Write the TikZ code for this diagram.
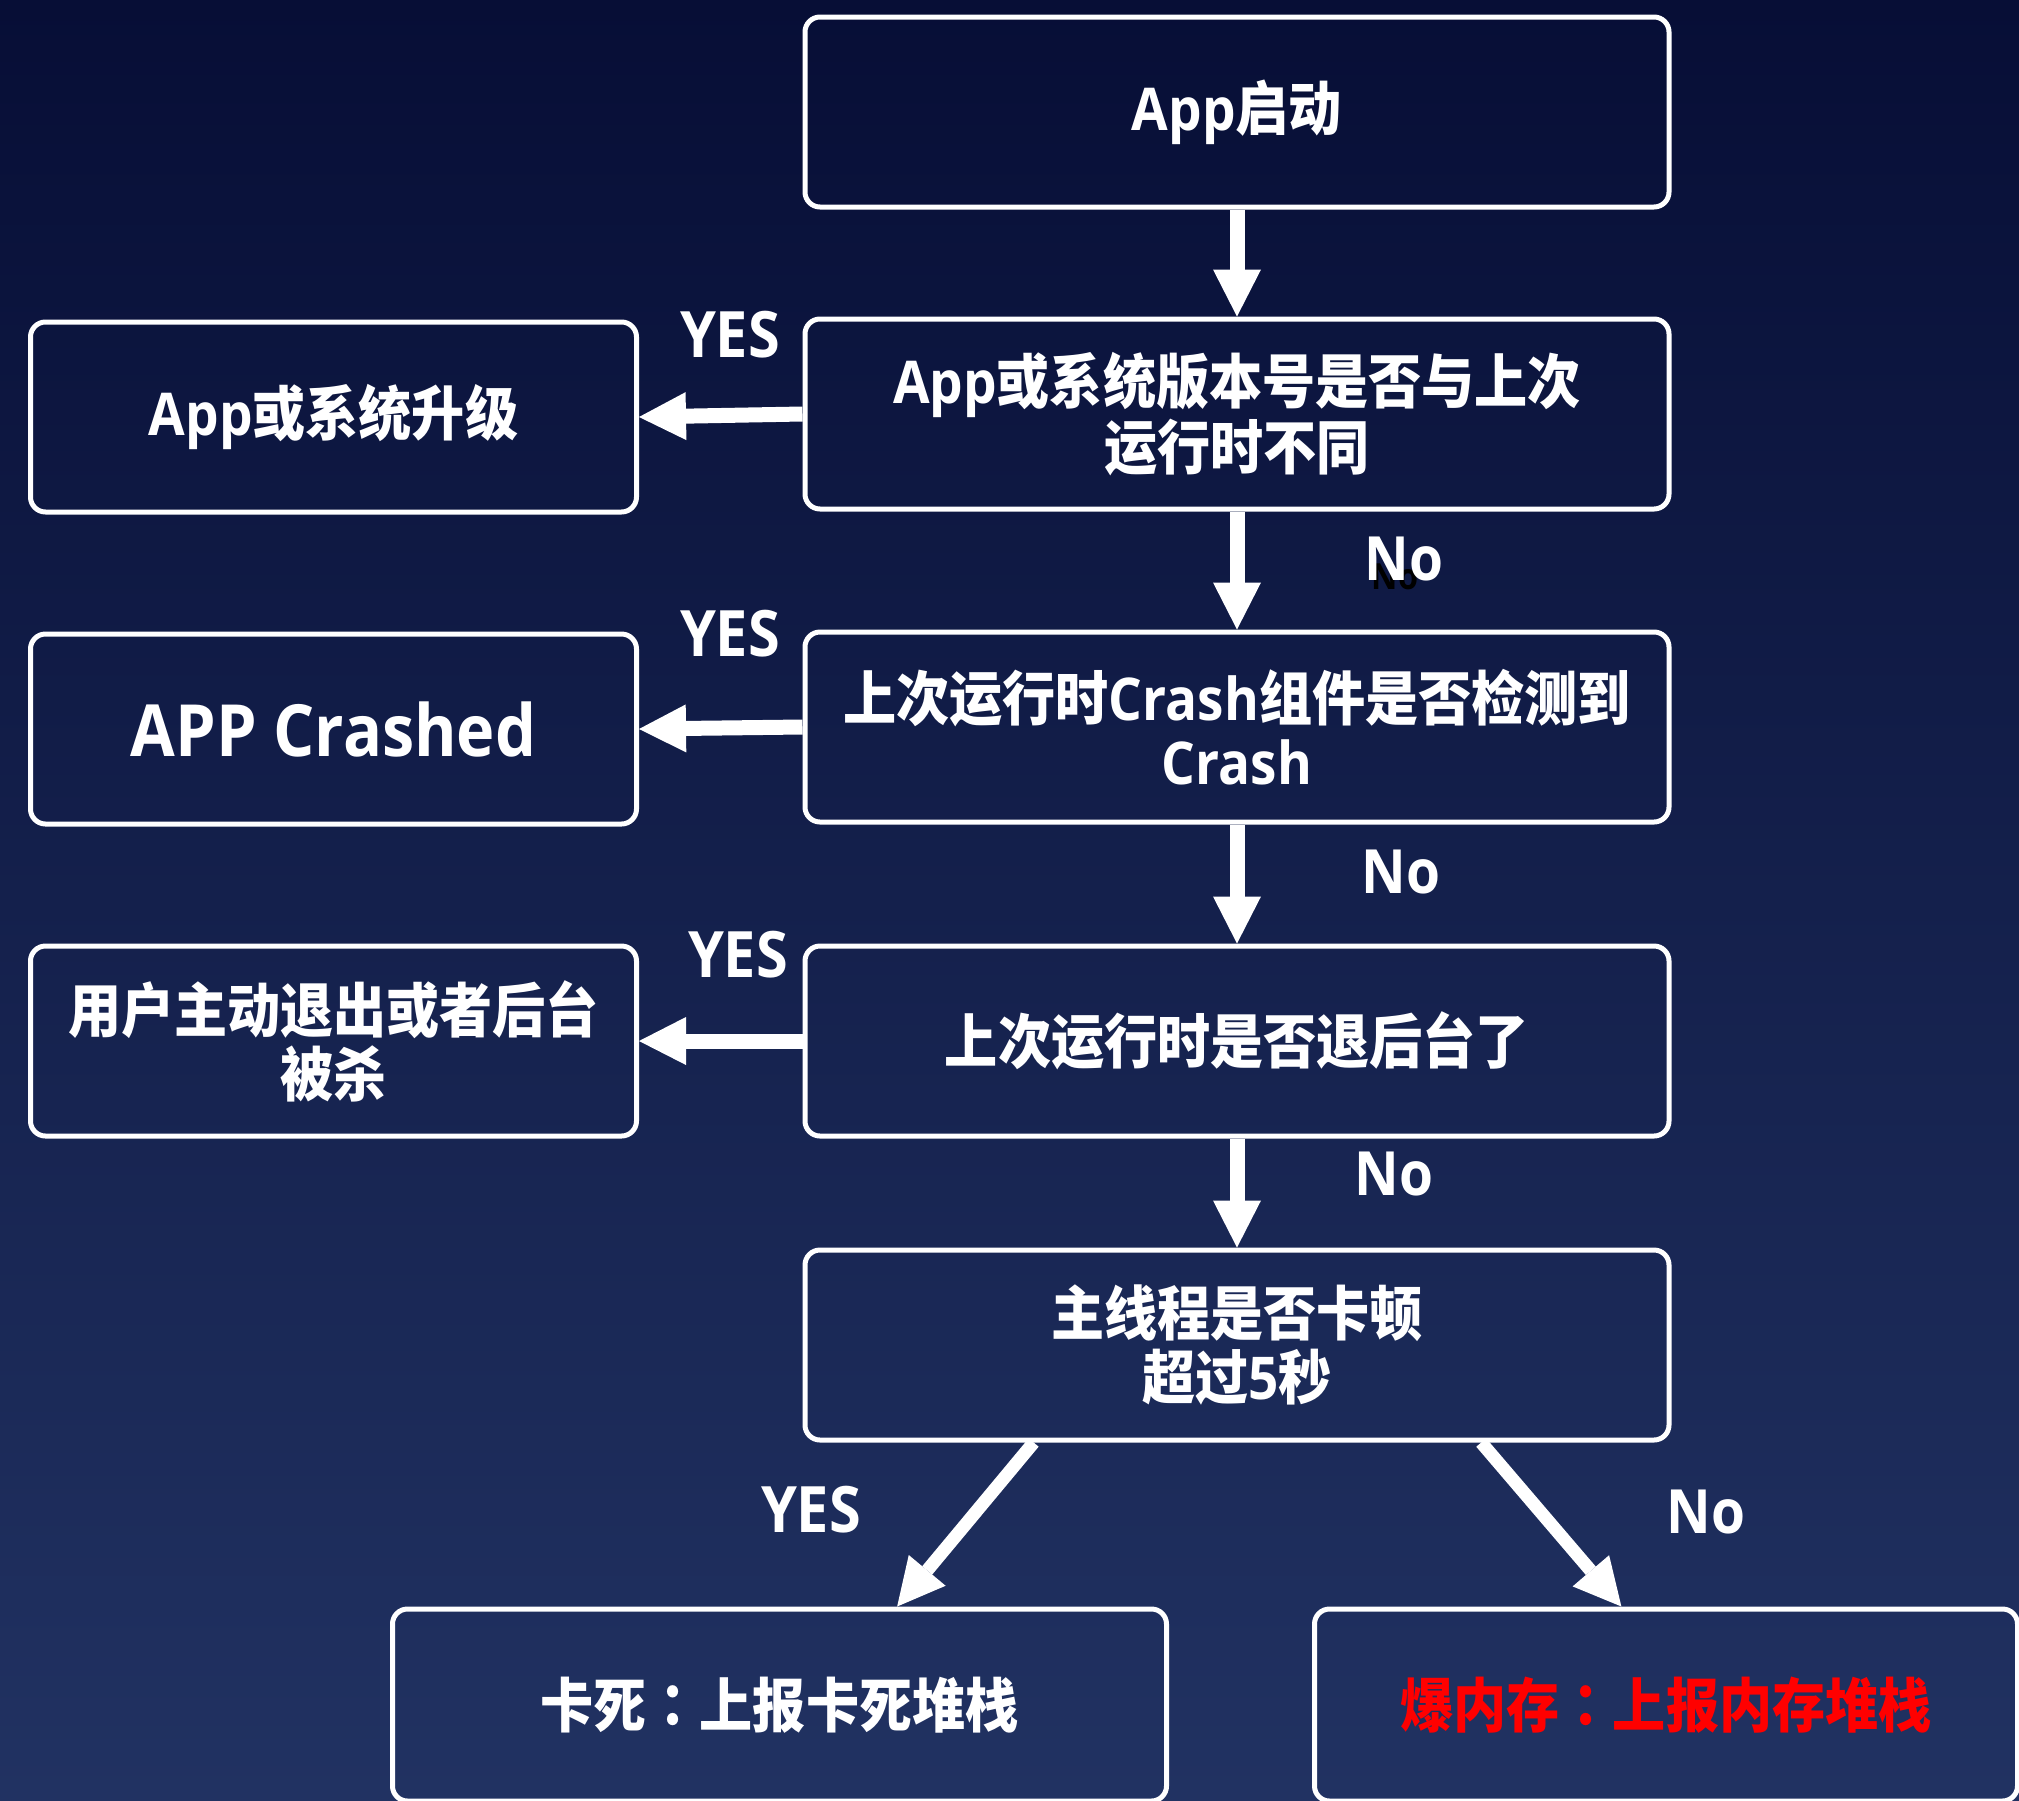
\documentclass[tikz,border=0pt]{standalone}
\usepackage{fontspec}
\usetikzlibrary{arrows.meta,calc}

% Bold, slightly condensed faces: CJK text and Latin text
\newfontfamily\cjkf{Noto Sans CJK SC}[FakeStretch=0.9]
\newfontfamily\cjktc{Noto Sans CJK TC}[FakeStretch=0.9]
\newfontfamily\latf{Open Sans}[FakeStretch=0.9]
\newcommand\txtL[1]{{\latf\bfseries #1}}
% centred full-width colon
\newcommand\ccolon{{\cjktc\bfseries ：}}

\definecolor{bgtop}{HTML}{070E36}
\definecolor{bgbot}{HTML}{213262}
\definecolor{memred}{HTML}{FF0000}

\tikzset{
  box/.style={draw=white, line width=5pt, rounded corners=15pt,
    minimum width=864pt, minimum height=190pt, align=center, text=white,
    inner sep=0pt, font=\cjkf\bfseries\fontsize{59}{64}\selectfont},
  sidebox/.style={box, minimum width=606pt},
  endbox/.style={box, minimum height=192pt},
  flow/.style={draw=white, line width=15pt,
    -{Triangle[length=47pt,width=48pt,line width=0pt]}},
  flowd/.style={flow, line width=13pt},
  yeslbl/.style={text=white, inner sep=0pt,
    font=\latf\bfseries\fontsize{64}{64}\selectfont},
  nolbl/.style={text=white, inner sep=0pt,
    font=\latf\bfseries\fontsize{61}{61}\selectfont},
}

\begin{document}
\begin{tikzpicture}[x=1pt, y=-1pt]
  % page and background gradient
  \useasboundingbox (0,0) rectangle (2019,1800);
  \shade[top color=bgtop, bottom color=bgbot] (0,0) rectangle (2019,1800);

  % main column
  \node[box] (start) at (1237,112) {\txtL{App}启动};
  \node[box] (ver)   at (1237,414) {\txtL{App}或系统版本号是否与上次\\运行时不同};
  \node[box] (crash) at (1237,727) {上次运行时\txtL{Crash}组件是否检测到\\\txtL{Crash}};
  \node[box] (bg)    at (1237,1041) {上次运行时是否退后台了};
  \node[box] (lag)   at (1237,1345) {主线程是否卡顿\\超过\txtL{5}秒};

  % outcomes on the left
  \node[sidebox] (upg) at (333.5,417) {\txtL{App}或系统升级};
  \node[sidebox, font=\latf\bfseries\fontsize{72}{72}\selectfont] (crashed)
    at (333.5,729) {APP Crashed};
  \node[sidebox] (kill) at (333.5,1041) {用户主动退出或者后台\\被杀};

  % outcomes at the bottom
  \node[endbox, minimum width=774pt] (hang) at (779.5,1705) {卡死\ccolon 上报卡死堆栈};
  \node[endbox, minimum width=703pt, text=memred] (oom) at (1666,1705)
    {爆内存\ccolon 上报内存堆栈};

  % connectors down the main column
  \draw[flow] (start) -- (ver);
  \draw[flow] (ver) -- (crash);
  \draw[flow] (crash) -- (bg);
  \draw[flow] (bg) -- (lag);

  % YES branches to the left
  \draw[flow] (ver.west) -- (upg.east);
  \draw[flow] (crash.west) -- (crashed.east);
  \draw[flow] (bg.west) -- (kill.east);

  % final split
  \draw[flowd] ($(lag.south west)!0.266!(lag.south east)$)
    -- ($(hang.north west)!0.651!(hang.north east)$);
  \draw[flowd] ($(lag.south west)!0.781!(lag.south east)$)
    -- ($(oom.north west)!0.437!(oom.north east)$);

  % branch labels
  \node[yeslbl] (y1) at (730,335) {YES};
  \node[yeslbl] (y2) at (730,634) {YES};
  \node[yeslbl] (y3) at (738,955) {YES};
  \node[yeslbl] (y4) at (811,1510) {YES};

  \node[text=black, inner sep=0pt, font=\latf\bfseries\fontsize{36}{36}\selectfont]
    (n1s) at (1395,577) {No};
  \node[nolbl] (n1) at (1404,559) {No};
  \node[nolbl] (n2) at (1401,872) {No};
  \node[nolbl] (n3) at (1394,1174) {No};
  \node[nolbl] (n4) at (1706,1512) {No};
\end{tikzpicture}
\end{document}
